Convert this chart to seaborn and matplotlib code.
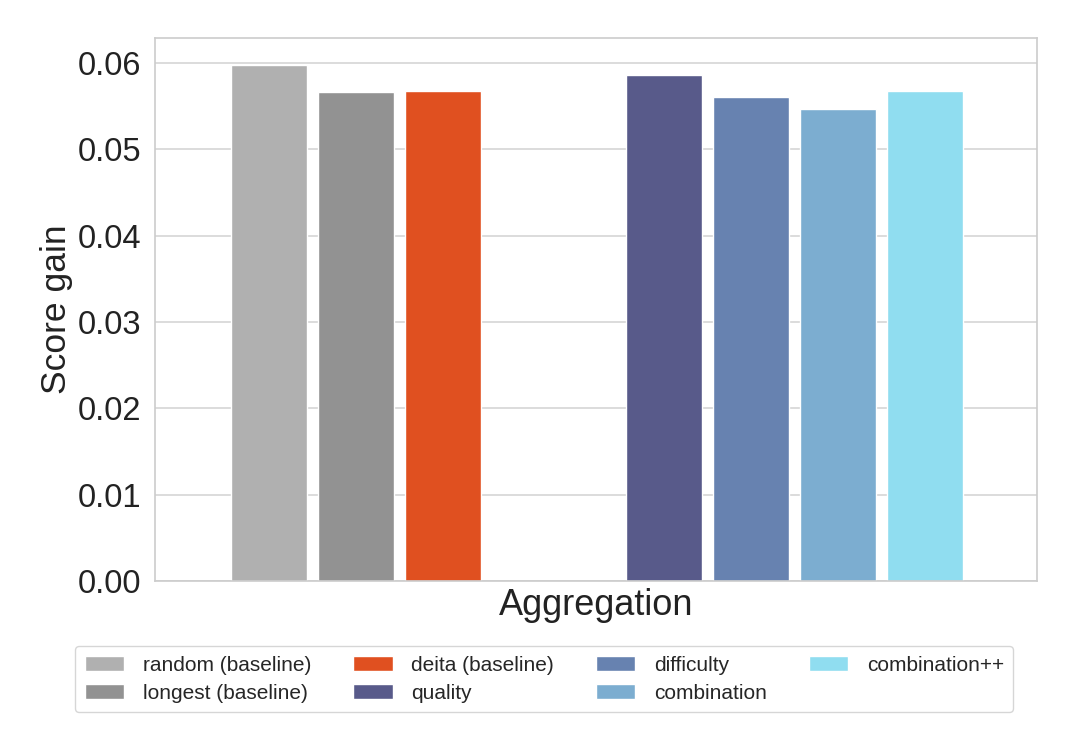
import matplotlib
matplotlib.use("Agg")
import matplotlib.pyplot as plt
import pandas as pd
import seaborn as sns

# values
methods = ["random (baseline)", "longest (baseline)", "deita (baseline)",
           "quality", "difficulty", "combination", "combination++"]
score_gain = [0.05974, 0.05664, 0.05676, 0.05861, 0.05610, 0.05464, 0.05676]
colors = ["#b0b0b0", "#929292", "#e05020", "#585a8a", "#6782b0", "#7cadd0", "#90ddf0"]

# slot positions: baselines, then a gap, then our methods
positions = [0, 1, 2, 4.54, 5.54, 6.54, 7.54]

df = pd.DataFrame({"method": methods, "score": score_gain, "pos": positions})

sns.set_theme(style="whitegrid")
plt.rcParams["font.family"] = ["Liberation Sans", "DejaVu Sans"]

fig = plt.figure(figsize=(10.8, 7.56), dpi=100)
ax = fig.add_axes([0.1435, 0.2315, 0.8165, 0.7182])

sns.barplot(data=df, x="pos", y="score", hue="method", hue_order=methods,
            palette=colors, native_scale=True, width=0.875, saturation=1,
            edgecolor="white", linewidth=1, legend=True, ax=ax)

ax.axhline(0, color="#bbbbbb", linestyle="--", linewidth=1, zorder=0)

ax.set_xlim(-1.315, 8.82)
ax.set_ylim(0, 0.0629)
ax.set_yticks([0.0, 0.01, 0.02, 0.03, 0.04, 0.05, 0.06])
ax.set_yticklabels(["0.00", "0.01", "0.02", "0.03", "0.04", "0.05", "0.06"])
ax.set_xticks([])
ax.tick_params(axis="y", labelsize=23.5, colors="#222222", pad=4)
ax.set_xlabel("Aggregation", fontsize=26, color="#222222", labelpad=5)
ax.set_ylabel("Score gain", fontsize=25.5, color="#222222", labelpad=3)
ax.grid(axis="x", visible=False)
ax.grid(axis="y", color="#d5d5d5", linewidth=1.2)
for sp in ax.spines.values():
    sp.set_color("#cccccc")
    sp.set_linewidth(1.2)

handles, labels = ax.get_legend_handles_labels()
ax.get_legend().remove()
fig.legend(handles, labels, loc="upper center", bbox_to_anchor=(0.504, 0.159),
           ncol=4, fontsize=15, frameon=True, edgecolor="#cccccc",
           handlelength=1.9, handletextpad=0.9, columnspacing=2.0,
           borderpad=0.45, labelspacing=0.45, fancybox=True)

fig.savefig("out.png", dpi=100)
print("Generated: out.png")
